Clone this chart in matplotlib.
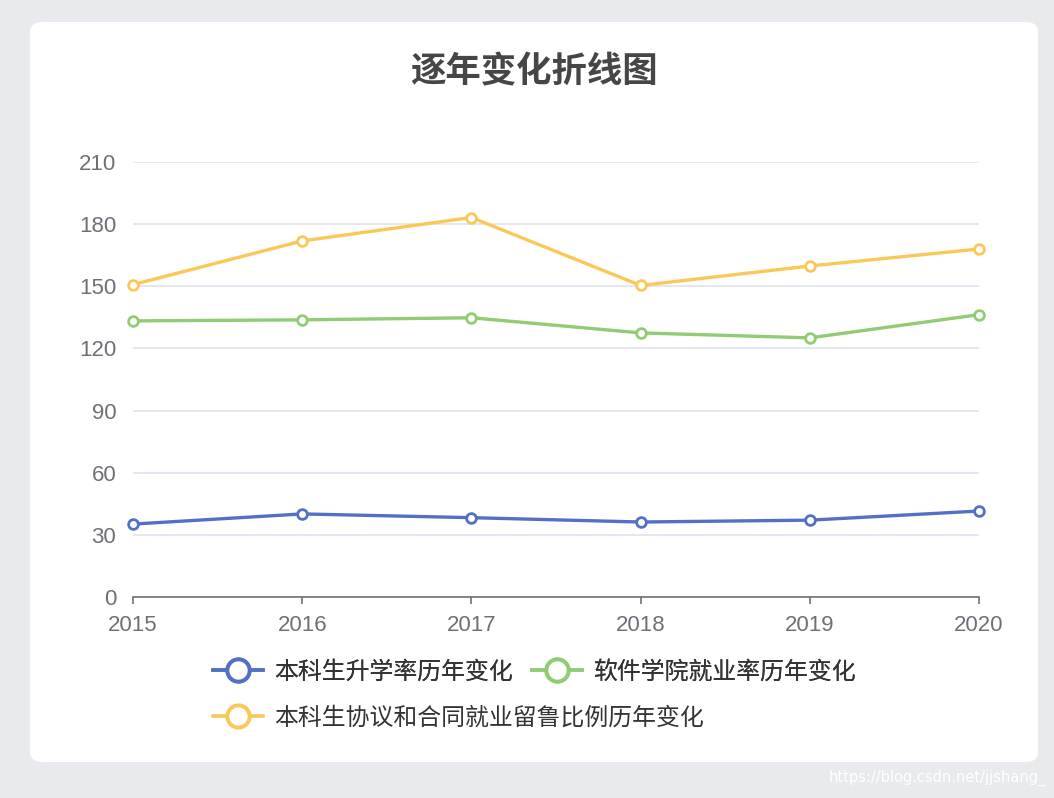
import matplotlib
matplotlib.use('Agg')
import matplotlib.pyplot as plt
from matplotlib.lines import Line2D
from matplotlib.patches import FancyBboxPatch

plt.rcParams['font.family'] = ['Noto Sans CJK SC', 'DejaVu Sans']

# data
years = ['2015', '2016', '2017', '2018', '2019', '2020']
promotion_rate = [35.2, 40.1, 38.3, 36.2, 37.1, 41.5]
software_employment = [133.3, 133.8, 134.8, 127.5, 125.1, 136.3]
agreement_ratio = [150.8, 171.9, 183.2, 150.4, 159.8, 168.0]
series_names = ['本科生升学率历年变化', '软件学院就业率历年变化', '本科生协议和合同就业留鲁比例历年变化']
y_ticks = [0, 30, 60, 90, 120, 150, 180, 210]

colors = ['#5470c6', '#91cc75', '#fac858']
axis_gray = '#6e7079'

fig = plt.figure(figsize=(10.54, 7.98), dpi=100)
fig.patch.set_facecolor('#e9eaee')

# white card behind the chart
card = FancyBboxPatch((30 / 1054, 1 - 762 / 798), 1008 / 1054, 740 / 798,
                      boxstyle='round,pad=0,rounding_size=0.012',
                      transform=fig.transFigure, facecolor='white',
                      edgecolor='none', zorder=-5)
fig.patches.append(card)

ax = fig.add_axes([133 / 1054, 1 - 597 / 798, 846 / 1054, 435 / 798])
ax.set_facecolor('none')
ax.set_zorder(2)

x = list(range(len(years)))
for vals, c in zip([promotion_rate, software_employment, agreement_ratio], colors):
    ax.plot(x, vals, color=c, lw=2.4, marker='o', markersize=7,
            markerfacecolor='white', markeredgecolor=c, markeredgewidth=2,
            zorder=3, clip_on=False)

ax.set_xlim(0, len(years) - 1)
ax.set_ylim(0, 210)
ax.set_xticks(x)
ax.set_xticklabels(years)
ax.set_yticks(y_ticks)
ax.grid(axis='y', color='#dfe3ef', lw=1.2)
ax.set_axisbelow(True)

for side in ['top', 'right', 'left']:
    ax.spines[side].set_visible(False)
ax.spines['bottom'].set_color(axis_gray)
ax.spines['bottom'].set_linewidth(1.2)

ax.tick_params(axis='x', colors=axis_gray, length=5, width=1.2, pad=8,
               labelsize=16, labelcolor=axis_gray)
ax.tick_params(axis='y', length=0, pad=12, labelsize=16, labelcolor=axis_gray)
for lbl in ax.get_xticklabels() + ax.get_yticklabels():
    lbl.set_fontfamily(['Liberation Sans', 'DejaVu Sans'])

fig.text(534 / 1054, 1 - 72 / 798, '逐年变化折线图', ha='center', va='center',
         fontsize=25.5, fontweight='bold', color='#464646')

# legend
handles = [Line2D([0], [0], color=c, lw=2.6, marker='o', markersize=16,
                  markerfacecolor='white', markeredgecolor=c, markeredgewidth=2.8)
           for c in colors]
leg_kw = dict(frameon=False, fontsize=17.2, handlelength=2.1, handletextpad=0.45,
              columnspacing=0.8, borderaxespad=0, borderpad=0, numpoints=1,
              labelcolor='#333333')
leg1 = fig.legend(handles[:2], series_names[:2], ncol=2, loc='center left',
                  bbox_to_anchor=(213 / 1054, 1 - 672 / 798), **leg_kw)
fig.legend(handles[2:], series_names[2:], loc='center left',
           bbox_to_anchor=(213 / 1054, 1 - 718 / 798), **leg_kw)
fig.add_artist(leg1)

fig.text(1046 / 1054, 1 - 778 / 798, 'https://blog.csdn.net/jjshang_', ha='right',
         va='center', fontsize=10.5, color='#ffffff', family=['DejaVu Sans'])

fig.savefig('out.png', dpi=100, facecolor=fig.get_facecolor())
